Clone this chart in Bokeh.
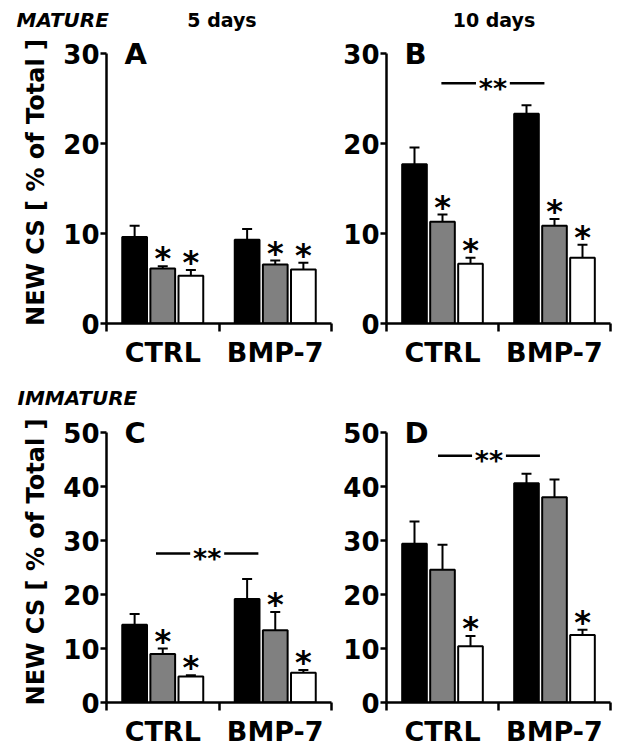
from bokeh.plotting import figure
from bokeh.layouts import column, row
from bokeh.models import Range1d, FixedTicker, Label, ColumnDataSource
from bokeh.core.properties import value
from bokeh.embed import file_html
from bokeh.resources import INLINE

# ---------------- data ----------------
groups = ["CTRL", "BMP-7"]
series_colors = ["black", "#808080", "white"]

ticks_mature = [0, 10, 20, 30]
ticks_immature = [0, 10, 20, 30, 40, 50]

# Panel A : MATURE, 5 days
A_mean = [9.6, 6.1, 5.3, 9.3, 6.55, 6.0]
A_err = [1.25, 0.25, 0.65, 1.2, 0.45, 0.75]
A_star = [0, 1, 1, 0, 1, 1]
# Panel B : MATURE, 10 days
B_mean = [17.7, 11.3, 6.65, 23.3, 10.85, 7.3]
B_err = [1.85, 0.8, 0.65, 0.95, 0.75, 1.45]
B_star = [0, 1, 1, 0, 1, 1]
B_sig = (0.49, 1.41, 26.7)
# Panel C : IMMATURE, 5 days
C_mean = [14.4, 9.0, 4.8, 19.15, 13.4, 5.5]
C_err = [2.0, 1.0, 0.25, 3.7, 3.35, 0.5]
C_star = [0, 1, 1, 0, 1, 1]
C_sig = (0.44, 1.35, 27.6)
# Panel D : IMMATURE, 10 days
D_mean = [29.4, 24.6, 10.4, 40.6, 38.0, 12.5]
D_err = [4.1, 4.6, 1.9, 1.75, 3.3, 0.95]
D_star = [0, 0, 1, 0, 0, 1]
D_sig = (0.46, 1.37, 45.7)

ylab = "NEW CS [ % of Total ]"

FONT = value("DejaVu Sans")
BASE_SHIFT = 0.36      # labels draw their baseline this many em lower
AXIS_PX = 270          # pixel length of the value axis (0..max)
LEFT_W, RIGHT_W = 340, 278
LEFT_BL, RIGHT_BL = 106, 45
LEFT_BR, RIGHT_BR = 9, 8
TOTAL_W = LEFT_W + RIGHT_W
H1, TOP_H, H2, BOT_H = 32, 338, 40, 339
TOP_BT, BOT_BT = 9, 11
BOTTOM_B = 47


def make_panel(means, errs, stars, ticks, sig, letter, width, height,
               bl, br, bt, bb, ylabel):
    ymax = ticks[-1]
    per_px = ymax / AXIS_PX
    frame_h = height - bt - bb
    ytop = frame_h * per_px
    p = figure(width=width, height=height, x_range=Range1d(0, 2),
               y_range=Range1d(0, ytop), output_backend="svg", title=None,
               toolbar_location=None, min_border_left=bl, min_border_right=br,
               min_border_top=bt, min_border_bottom=bb)
    p.outline_line_color = None
    p.xgrid.visible = False
    p.ygrid.visible = False
    p.background_fill_color = "white"
    p.border_fill_color = "white"

    xs = [g + (i + 1) * 0.25 for g in range(len(groups)) for i in range(3)]
    colors = series_colors * len(groups)
    tops = [m + e for m, e in zip(means, errs)]
    frame_w = width - bl - br
    cap = 5 / frame_w * 2
    src = ColumnDataSource(dict(x=xs, m=means, t=tops, c=colors,
                                xl=[x - cap for x in xs], xr=[x + cap for x in xs]))
    p.segment(x0="x", y0="m", x1="x", y1="t", source=src, line_color="black", line_width=2)
    p.segment(x0="xl", y0="t", x1="xr", y1="t", source=src, line_color="black", line_width=2)
    p.vbar(x="x", top="m", bottom=0, width=0.22, fill_color="c", line_color="black",
           line_width=2, source=src)

    sx = [x for x, s in zip(xs, stars) if s]
    sy = [t for t, s in zip(tops, stars) if s]
    p.text(x=sx, y=sy, text=["*"] * len(sx), text_align="center",
           text_baseline="alphabetic", y_offset=-8, text_font=FONT,
           text_font_style="bold", text_font_size="32px", text_color="black")

    if sig is not None:
        x0, x1, y = sig
        xc = (x0 + x1) / 2
        gap = 17 / frame_w * 2
        p.segment(x0=[x0, xc + gap], y0=[y, y], x1=[xc - gap, x1], y1=[y, y],
                  line_color="black", line_width=2.5)
        p.text(x=[xc], y=[y], text=["**"], text_align="center",
               text_baseline="alphabetic", y_offset=5, text_font=FONT,
               text_font_style="bold", text_font_size="27px", text_color="black")

    # panel letter: baseline 11 px below the top tick
    p.add_layout(Label(x=0, y=ymax - (11 - BASE_SHIFT * 29) * per_px, x_offset=18,
                       text=letter, text_font="DejaVu Sans", text_font_style="bold",
                       text_font_size="29px", text_align="left",
                       text_baseline="alphabetic", text_color="black"))

    # axes
    for ax in (p.xaxis[0], p.yaxis[0]):
        ax.axis_line_width = 2.5
        ax.axis_line_color = "black"
        ax.major_tick_line_width = 2.5
        ax.minor_tick_line_width = 2.5
        ax.major_tick_in = 0
        ax.minor_tick_in = 0
        ax.major_label_text_font = "DejaVu Sans"
        ax.major_label_text_font_style = "bold"
        ax.major_label_text_color = "black"
        ax.axis_label = None

    ya = p.yaxis[0]
    ya.ticker = FixedTicker(ticks=ticks)
    ya.bounds = (0, ymax)
    ya.major_tick_out = 6
    ya.minor_tick_out = 0
    ya.major_label_standoff = 1
    ya.major_label_text_font_size = "26px"
    if ylabel:
        ya.axis_label = ylabel
        ya.axis_label_text_font = "DejaVu Sans"
        ya.axis_label_text_font_style = "bold"
        ya.axis_label_text_font_size = "24px"
        ya.axis_label_text_color = "black"
        ya.axis_label_standoff = 10

    xa = p.xaxis[0]
    centers = [g + 0.5 for g in range(len(groups))]
    bounds = [float(g) for g in range(len(groups) + 1)]
    xa.ticker = FixedTicker(ticks=centers, minor_ticks=bounds)
    xa.major_label_overrides = {c: g for c, g in zip(centers, groups)}
    xa.major_tick_out = 0
    xa.minor_tick_out = 8
    xa.major_label_standoff = 5
    xa.major_label_text_font_size = "27px"
    return p


def text_strip(height, items):
    h = figure(width=TOTAL_W, height=height, x_range=Range1d(0, TOTAL_W),
               y_range=Range1d(0, height), output_backend="svg", title=None,
               toolbar_location=None, min_border=0, x_axis_type=None, y_axis_type=None)
    h.outline_line_color = None
    h.xgrid.visible = False
    h.ygrid.visible = False
    for text, x, base_from_top, align, style, size in items:
        y = height - base_from_top + BASE_SHIFT * size
        h.add_layout(Label(x=x, y=y, text=text, text_font="DejaVu Sans",
                           text_font_style=style, text_font_size=f"{size}px",
                           text_align=align, text_baseline="alphabetic",
                           text_color="black"))
    return h


# frame centres (pixels from page left)
a_center = LEFT_BL + (LEFT_W - LEFT_BL - LEFT_BR) / 2
b_center = LEFT_W + RIGHT_BL + (RIGHT_W - RIGHT_BL - RIGHT_BR) / 2

h1 = text_strip(H1, [("MATURE", 16, 26.7, "left", "bold italic", 20),
                     ("5 days", a_center + 3, 26.7, "center", "bold", 19),
                     ("10 days", b_center - 4, 26.7, "center", "bold", 19)])
pA = make_panel(A_mean, A_err, A_star, ticks_mature, None, "A", LEFT_W, TOP_H,
                LEFT_BL, LEFT_BR, TOP_BT, BOTTOM_B, ylab)
pB = make_panel(B_mean, B_err, B_star, ticks_mature, B_sig, "B", RIGHT_W, TOP_H,
                RIGHT_BL, RIGHT_BR, TOP_BT, BOTTOM_B, None)
h2 = text_strip(H2, [("IMMATURE", 17, 35, "left", "bold italic", 20)])
pC = make_panel(C_mean, C_err, C_star, ticks_immature, C_sig, "C", LEFT_W, BOT_H,
                LEFT_BL, LEFT_BR, BOT_BT, BOTTOM_B, ylab)
pD = make_panel(D_mean, D_err, D_star, ticks_immature, D_sig, "D", RIGHT_W, BOT_H,
                RIGHT_BL, RIGHT_BR, BOT_BT, BOTTOM_B, None)

layout = column(h1, row(pA, pB), h2, row(pC, pD))

open("out.html", "w").write(file_html(layout, INLINE))
